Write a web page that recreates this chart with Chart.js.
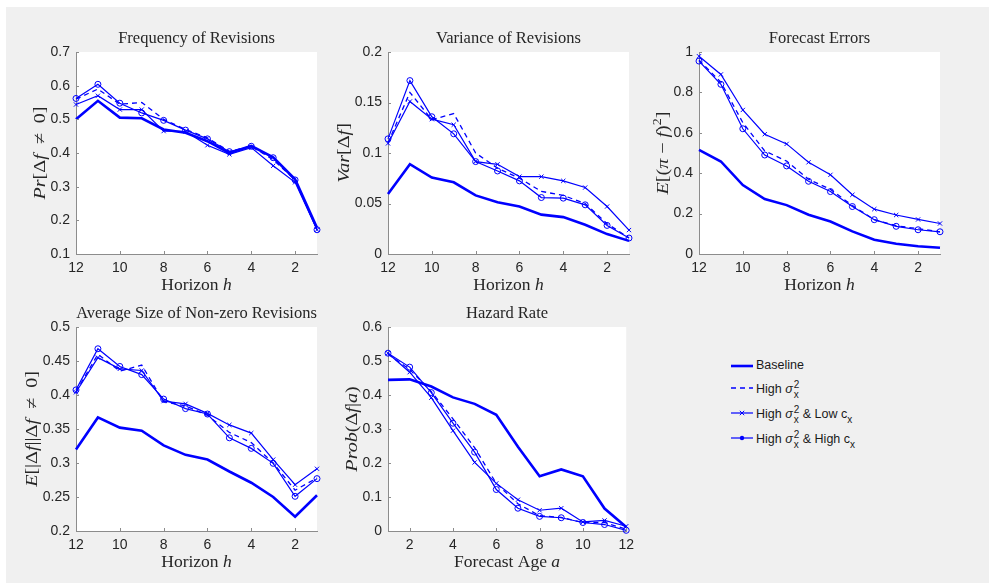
<!DOCTYPE html>
<html>
<head>
<meta charset="utf-8">
<script src="https://cdn.jsdelivr.net/npm/chart.js@4.4.1/dist/chart.umd.min.js"></script>
<style>
body { margin: 0; width: 989px; height: 583px; overflow: hidden; position: relative; background: #fff; }
#backdrop { position: absolute; left: 6px; top: 7px; right: 0; bottom: 0; background: #f0f0f0; }
canvas { position: absolute; }
#legend { position: absolute; left: 731px; top: 354px; font-family: "Liberation Sans", Arial, sans-serif; font-size: 12.5px; color: #1a1a1a; }
.row { position: absolute; left: 0; height: 24px; white-space: nowrap; }
.row svg { position: absolute; left: 0; top: 7px; }
.row .txt { position: absolute; left: 25px; top: 4px; line-height: 14px; }
.ss { display: inline-block; vertical-align: -5px; line-height: 10px; font-size: 10px; margin-left: 1px; }
.ss span { display: block; }
.sub { font-size: 10px; vertical-align: -5px; line-height: 0; }
</style>
</head>
<body>
<div id="backdrop"></div>
<div id="legend"></div>
<script>
// x positions
const horizons = [12, 11, 10, 9, 8, 7, 6, 5, 4, 3, 2, 1]
const ages = [1, 2, 3, 4, 5, 6, 7, 8, 9, 10, 11, 12]
const horizonTicks = [12, 10, 8, 6, 4, 2]
const ageTicks = [2, 4, 6, 8, 10, 12]

// frequency of revisions, by horizon
const freqBaseline = [0.500, 0.555, 0.505, 0.503, 0.470, 0.460, 0.435, 0.400, 0.421, 0.387, 0.322, 0.178]
const freqHighVar  = [0.560, 0.590, 0.545, 0.550, 0.500, 0.470, 0.445, 0.405, 0.420, 0.380, 0.320, 0.175]
const freqLowC     = [0.544, 0.570, 0.529, 0.529, 0.465, 0.464, 0.423, 0.396, 0.416, 0.362, 0.313, 0.172]
const freqHighC    = [0.562, 0.604, 0.548, 0.519, 0.497, 0.468, 0.442, 0.404, 0.420, 0.386, 0.320, 0.172]

// variance of revisions, by horizon
const varBaseline = [0.0595, 0.089, 0.0757, 0.071, 0.058, 0.0513, 0.047, 0.039, 0.0365, 0.029, 0.0197, 0.013]
const varHighVar  = [0.110, 0.160, 0.133, 0.139, 0.100, 0.085, 0.075, 0.062, 0.058, 0.050, 0.030, 0.016]
const varLowC     = [0.1095, 0.151, 0.1335, 0.128, 0.0915, 0.0888, 0.0766, 0.0766, 0.0724, 0.0658, 0.047, 0.0237]
const varHighC    = [0.114, 0.1717, 0.1359, 0.119, 0.0915, 0.0822, 0.0724, 0.0559, 0.0553, 0.0487, 0.0283, 0.0158]

// forecast errors, by horizon
const errBaseline = [0.515, 0.458, 0.341, 0.272, 0.242, 0.194, 0.161, 0.112, 0.071, 0.051, 0.038, 0.031]
const errHighVar  = [0.960, 0.850, 0.650, 0.510, 0.460, 0.370, 0.320, 0.240, 0.170, 0.140, 0.125, 0.110]
const errLowC     = [0.979, 0.889, 0.713, 0.593, 0.545, 0.454, 0.392, 0.293, 0.222, 0.193, 0.171, 0.151]
const errHighC    = [0.955, 0.840, 0.620, 0.490, 0.436, 0.360, 0.309, 0.235, 0.170, 0.137, 0.120, 0.110]

// average size of non-zero revisions, by horizon
const sizeBaseline = [0.320, 0.367, 0.352, 0.3475, 0.326, 0.312, 0.305, 0.2875, 0.271, 0.250, 0.221, 0.2525]
const sizeHighVar  = [0.405, 0.460, 0.435, 0.444, 0.390, 0.384, 0.370, 0.345, 0.330, 0.300, 0.260, 0.278]
const sizeLowC     = [0.404, 0.455, 0.4385, 0.436, 0.391, 0.387, 0.373, 0.356, 0.344, 0.305, 0.268, 0.2915]
const sizeHighC    = [0.4075, 0.468, 0.442, 0.430, 0.394, 0.380, 0.372, 0.337, 0.3215, 0.2995, 0.251, 0.277]

// hazard rate, by forecast age
const hazBaseline = [0.4446, 0.446, 0.425, 0.393, 0.374, 0.342, 0.248, 0.161, 0.181, 0.161, 0.066, 0.012]
const hazHighVar  = [0.520, 0.475, 0.410, 0.330, 0.245, 0.140, 0.080, 0.045, 0.040, 0.025, 0.025, 0.005]
const hazLowC     = [0.523, 0.467, 0.392, 0.295, 0.2016, 0.140, 0.092, 0.061, 0.067, 0.0266, 0.031, 0.014]
const hazHighC    = [0.523, 0.482, 0.407, 0.317, 0.232, 0.122, 0.067, 0.043, 0.039, 0.025, 0.019, 0.002]

const legendLabels = [
    'Baseline',
    'High <i>σ</i><span class="ss"><span>2</span><span>x</span></span>',
    'High <i>σ</i><span class="ss"><span>2</span><span>x</span></span> &amp; Low c<span class="sub">x</span>',
    'High <i>σ</i><span class="ss"><span>2</span><span>x</span></span> &amp; High c<span class="sub">x</span>'
]

const BLUE = '#0000ff'
const SANS = '"Liberation Sans", Arial, sans-serif'
const SERIF = '"Liberation Serif", "Times New Roman", serif'
const AXIS_COLOR = '#8c8c8c'
const TEXT_COLOR = '#262626'
const AXIS_W = 70
const AXIS_H = 50
const PAD_TOP = 40
const PAD_RIGHT = 12

const seriesStyles = [
    { borderColor: BLUE, borderWidth: 2.6, pointRadius: 0 },
    { borderColor: BLUE, borderWidth: 1.3, borderDash: [5, 4], pointRadius: 0 },
    { borderColor: BLUE, borderWidth: 1.2, pointStyle: 'crossRot', pointRadius: 3, pointBorderWidth: 1, pointBorderColor: BLUE },
    { borderColor: BLUE, borderWidth: 1.2, pointStyle: 'circle', pointRadius: 3, pointBorderWidth: 1, pointBorderColor: BLUE, pointBackgroundColor: 'rgba(0,0,0,0)' }
]

const NE = '\u2002≠\u2002'

const panels = [
    {
        title: 'Frequency of Revisions', area: [76, 52, 317, 254],
        x: horizons, xTicks: horizonTicks, reverse: true,
        xLabel: [{ t: 'Horizon ' }, { t: 'h', it: true }],
        yLabel: [{ t: 'Pr', it: true }, { t: '[Δ' }, { t: 'f', it: true }, { t: NE + '0]' }],
        yMin: 0.1, yMax: 0.7, yStep: 0.1,
        series: [freqBaseline, freqHighVar, freqLowC, freqHighC]
    },
    {
        title: 'Variance of Revisions', area: [388, 52, 629, 254],
        x: horizons, xTicks: horizonTicks, reverse: true,
        xLabel: [{ t: 'Horizon ' }, { t: 'h', it: true }],
        yLabel: [{ t: 'Var', it: true }, { t: '[Δ' }, { t: 'f', it: true }, { t: ']' }],
        yMin: 0, yMax: 0.2, yStep: 0.05,
        series: [varBaseline, varHighVar, varLowC, varHighC]
    },
    {
        title: 'Forecast Errors', area: [699, 52, 940, 254],
        x: horizons, xTicks: horizonTicks, reverse: true,
        xLabel: [{ t: 'Horizon ' }, { t: 'h', it: true }],
        yLabel: [{ t: 'E', it: true }, { t: '[(' }, { t: 'π', it: true }, { t: ' − ' }, { t: 'f', it: true }, { t: ')' }, { t: '2', sup: true }, { t: ']' }],
        yMin: 0, yMax: 1, yStep: 0.2,
        series: [errBaseline, errHighVar, errLowC, errHighC]
    },
    {
        title: 'Average Size of Non-zero Revisions', area: [76, 327, 317, 531],
        x: horizons, xTicks: horizonTicks, reverse: true,
        xLabel: [{ t: 'Horizon ' }, { t: 'h', it: true }],
        yLabel: [{ t: 'E', it: true }, { t: '[|Δ' }, { t: 'f', it: true }, { t: '||Δ' }, { t: 'f', it: true }, { t: NE + '0]' }],
        yMin: 0.2, yMax: 0.5, yStep: 0.05,
        series: [sizeBaseline, sizeHighVar, sizeLowC, sizeHighC]
    },
    {
        title: 'Hazard Rate', area: [388, 327, 628, 531],
        x: ages, xTicks: ageTicks, reverse: false,
        xLabel: [{ t: 'Forecast Age ' }, { t: 'a', it: true }],
        yLabel: [{ t: 'Prob', it: true }, { t: '(Δ' }, { t: 'f', it: true }, { t: '|' }, { t: 'a', it: true }, { t: ')' }],
        yMin: 0, yMax: 0.6, yStep: 0.1,
        series: [hazBaseline, hazHighVar, hazLowC, hazHighC]
    }
]

// draws a label made of upright / italic / superscript pieces, centred on (x, y);
// stretch widens it along the reading direction
function drawRich(ctx, parts, x, y, size, vertical, stretch){
    ctx.save()
    ctx.translate(x, y)
    if (vertical) ctx.rotate(-Math.PI / 2)
    ctx.scale(stretch, 1)
    ctx.fillStyle = TEXT_COLOR
    ctx.textBaseline = 'alphabetic'
    ctx.textAlign = 'left'
    var total = 0
    const pieces = parts.map(p => {
        const fs = p.sup ? size * 0.7 : size
        const font = (p.it ? 'italic ' : '') + fs + 'px ' + SERIF
        ctx.font = font
        const w = ctx.measureText(p.t).width
        total += w
        return { t: p.t, font: font, w: w, sup: p.sup }
    })
    var cx = -total / 2
    const base = size * 0.3
    pieces.forEach(p => {
        ctx.font = p.font
        ctx.fillText(p.t, cx, p.sup ? base - size * 0.4 : base)
        cx += p.w
    })
    ctx.restore()
}

const decor = {
    id: 'decor',
    beforeDraw(chart){
        const a = chart.chartArea
        const ctx = chart.ctx
        ctx.save()
        ctx.fillStyle = '#ffffff'
        ctx.fillRect(a.left, a.top, a.right - a.left, a.bottom - a.top)
        ctx.restore()
    },
    afterDraw(chart){
        const p = chart.config.options.plugins.decor
        const a = chart.chartArea
        const ctx = chart.ctx
        const xs = chart.scales.x
        const ys = chart.scales.y

        // inward tick marks
        ctx.save()
        ctx.strokeStyle = AXIS_COLOR
        ctx.lineWidth = 1
        ctx.beginPath()
        xs.ticks.forEach(t => {
            const px = Math.round(xs.getPixelForValue(t.value)) + 0.5
            ctx.moveTo(px, a.bottom)
            ctx.lineTo(px, a.bottom - 3)
        })
        ys.ticks.forEach(t => {
            const py = Math.round(ys.getPixelForValue(t.value)) + 0.5
            ctx.moveTo(a.left, py)
            ctx.lineTo(a.left + 3, py)
        })
        ctx.stroke()

        // title
        ctx.fillStyle = TEXT_COLOR
        ctx.font = '16.5px ' + SERIF
        ctx.textAlign = 'center'
        ctx.textBaseline = 'alphabetic'
        ctx.fillText(p.title, (a.left + a.right) / 2, a.top - 9)

        // widest y tick label, to put the y title left of it
        ctx.font = '14px ' + SANS
        var maxW = 0
        ys.ticks.forEach(t => { maxW = Math.max(maxW, ctx.measureText(t.label).width) })
        ctx.restore()

        drawRich(ctx, p.xLabel, (a.left + a.right) / 2, a.bottom + 36 - 17 * 0.3, 17, false, 1.03)
        drawRich(ctx, p.yLabel, a.left - 6 - maxW - 11, (a.top + a.bottom) / 2, 17, true, 1.18)
    }
}

function makePanel(p){
    const [l, t, r, b] = p.area
    const canvas = document.createElement('canvas')
    canvas.width = r - l + AXIS_W + PAD_RIGHT
    canvas.height = b - t + PAD_TOP + AXIS_H
    canvas.style.left = (l - AXIS_W) + 'px'
    canvas.style.top = (t - PAD_TOP) + 'px'
    document.body.appendChild(canvas)

    const tickFont = { family: SANS, size: 14 }
    new Chart(canvas, {
        type: 'line',
        data: {
            datasets: p.series.map((vals, i) => Object.assign({
                data: p.x.map((x, j) => ({ x: x, y: vals[j] })),
                tension: 0,
                clip: false
            }, seriesStyles[i]))
        },
        options: {
            responsive: false,
            devicePixelRatio: 1,
            animation: false,
            events: [],
            layout: { padding: { top: PAD_TOP, right: PAD_RIGHT, left: 0, bottom: 0 } },
            scales: {
                x: {
                    type: 'linear',
                    min: 1,
                    max: 12,
                    reverse: p.reverse,
                    afterBuildTicks: s => { s.ticks = p.xTicks.map(v => ({ value: v })) },
                    afterFit: s => { s.height = AXIS_H },
                    ticks: { font: tickFont, color: TEXT_COLOR, padding: 6, maxRotation: 0, autoSkip: false, callback: v => String(v) },
                    grid: { display: false, drawTicks: false },
                    border: { display: true, color: AXIS_COLOR, width: 1 }
                },
                y: {
                    type: 'linear',
                    min: p.yMin,
                    max: p.yMax,
                    afterFit: s => { s.width = AXIS_W },
                    ticks: { font: tickFont, color: TEXT_COLOR, padding: 6, stepSize: p.yStep, callback: v => String(+v.toFixed(2)) },
                    grid: { display: false, drawTicks: false },
                    border: { display: true, color: AXIS_COLOR, width: 1 }
                }
            },
            plugins: {
                legend: { display: false },
                tooltip: { enabled: false },
                decor: p
            }
        },
        plugins: [decor]
    })
}

panels.forEach(makePanel)

// legend with small line samples
function sampleSvg(i){
    const s = seriesStyles[i]
    var svg = '<svg width="22" height="10" viewBox="0 0 22 10">'
    svg += '<line x1="0" y1="5" x2="22" y2="5" stroke="' + BLUE + '" stroke-width="' + s.borderWidth + '"'
    if (s.borderDash) svg += ' stroke-dasharray="' + s.borderDash.join(',') + '"'
    svg += '/>'
    if (s.pointStyle == 'crossRot') svg += '<path d="M8.8 2.8L13.2 7.2M13.2 2.8L8.8 7.2" stroke="' + BLUE + '" stroke-width="1"/>'
    if (s.pointStyle == 'circle') svg += '<circle cx="11" cy="5" r="2.2" fill="' + BLUE + '"/>'
    return svg + '</svg>'
}

const legend = document.getElementById('legend')
legendLabels.forEach((label, i) => {
    const row = document.createElement('div')
    row.className = 'row'
    row.style.top = [0, 22, 47, 72][i] + 'px'
    row.innerHTML = sampleSvg(i) + '<span class="txt">' + label + '</span>'
    legend.appendChild(row)
})
</script>
</body>
</html>
